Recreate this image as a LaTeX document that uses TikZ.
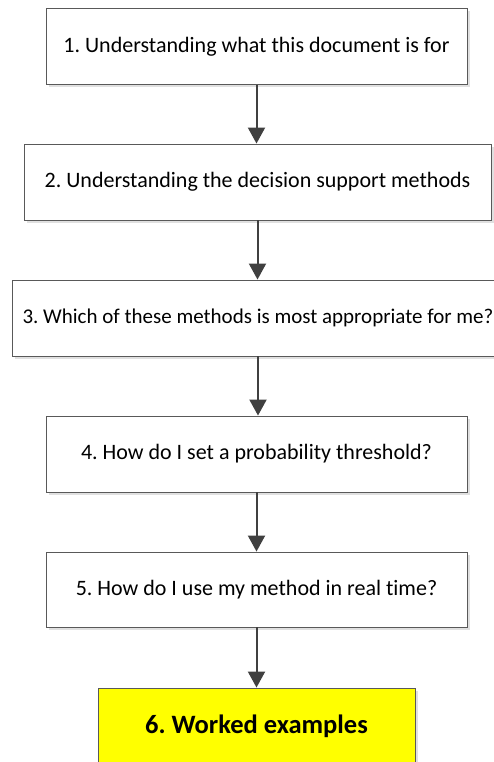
\documentclass[tikz,border=0pt]{standalone}
\usepackage{fontspec}
\setmainfont{Carlito}[Ligatures=CommonOff]
\usetikzlibrary{arrows.meta,shadows}
\frenchspacing
\begin{document}
\begin{tikzpicture}[x=1pt,y=1pt,
  box/.style={draw=black!65, line width=0.9pt, fill=white, minimum height=76pt,
    inner sep=0pt, font=\fontsize{22}{26}\selectfont,
    drop shadow={shadow xshift=3pt, shadow yshift=-3pt, fill=black!12, opacity=1}},
  arr/.style={draw=black!75, line width=2pt, -{Triangle[width=17pt,length=16pt]}}]
\useasboundingbox (0,0) rectangle (493,-762);
\node[box, minimum width=421pt] (b1) at (256.5,-46.5) {1. Understanding what this document is for};
\node[box, minimum width=467pt] (b2) at (257.5,-182) {2. Understanding the decision support methods};
\node[box, minimum width=492pt, font=\fontsize{21}{25}\selectfont] (b3) at (258,-318) {3. Which of these methods is most appropriate for me?};
\node[box, minimum width=421pt] (b4) at (256.5,-454) {4. How do I set a probability threshold?};
\node[box, minimum width=421pt, minimum height=75pt] (b5) at (256.5,-589.5) {5. How do I use my method in real time?};
\node[box, minimum width=317pt, fill={rgb,255:red,255;green,255;blue,0},
  font=\fontsize{26.5}{30}\selectfont\bfseries] (b6) at (256.5,-726) {6. Worked examples};
\draw[arr] (b1.south) -- (b1.south |- b2.north);
\draw[arr] (b2.south) -- (b2.south |- b3.north);
\draw[arr] (b3.south) -- (b3.south |- b4.north);
\draw[arr] (b4.south) -- (b4.south |- b5.north);
\draw[arr] (b5.south) -- (b5.south |- b6.north);
\end{tikzpicture}
\end{document}
